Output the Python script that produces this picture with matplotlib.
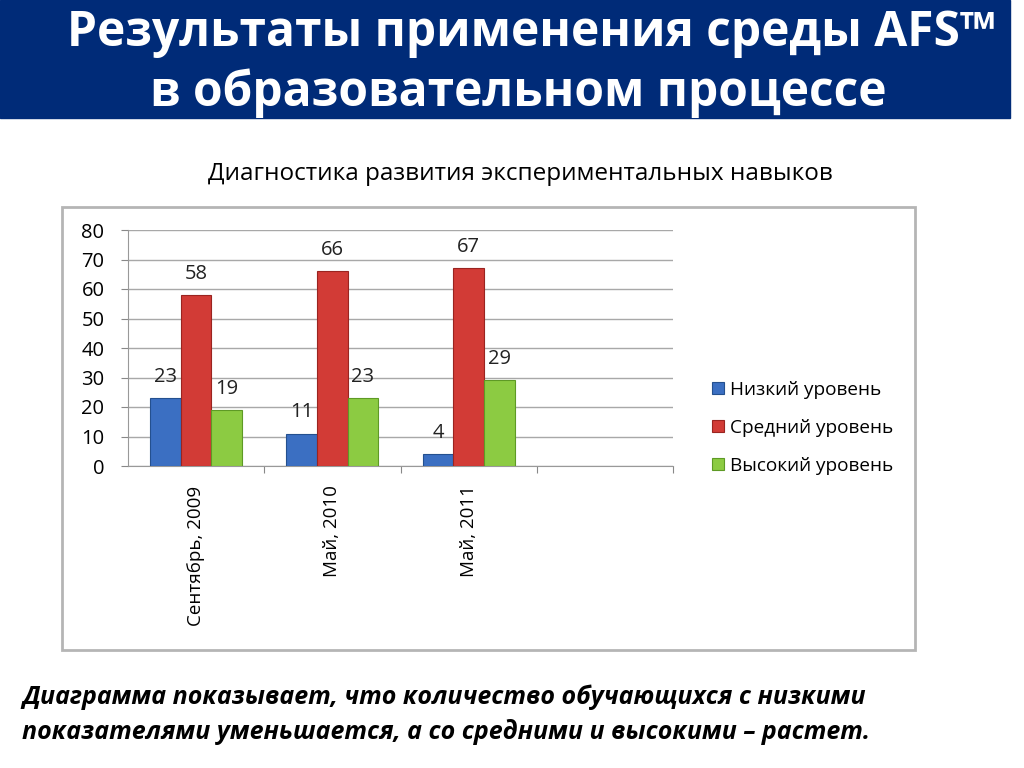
import matplotlib
matplotlib.use("Agg")
import matplotlib.pyplot as plt
from matplotlib.patches import Rectangle
import numpy as np

plt.rcParams['font.family'] = ['Open Sans', 'DejaVu Sans']

categories = ["Сентябрь, 2009", "Май, 2010", "Май, 2011"]
series_names = ["Низкий уровень", "Средний уровень", "Высокий уровень"]
low = [23, 11, 4]
mid = [58, 66, 67]
high = [19, 23, 29]
colors = ["#3b6fc2", "#d23b36", "#8ccb42"]
edges = ["#24508f", "#9a2420", "#5e9a25"]

fig = plt.figure(figsize=[10.24, 7.68], dpi=100)

# header banner
fig.patches.append(Rectangle((0, 1 - 118 / 768), 1010 / 1024, 118 / 768,
                             transform=fig.transFigure, color="#002b78", zorder=0))
fig.text(531 / 1024, 1 - 33 / 768, "Результаты применения среды AFS™", color="white",
         fontsize=34.5, fontweight="bold", ha="center", va="center")
fig.text(518 / 1024, 1 - 93 / 768, "в образовательном процессе", color="white",
         fontsize=34.5, fontweight="bold", ha="center", va="center")

fig.text(520 / 1024, 1 - 174 / 768, "Диагностика развития экспериментальных навыков",
         fontsize=17.5, ha="center", va="center")

# chart frame
fig.patches.append(Rectangle((62 / 1024, 1 - 650 / 768), (915 - 62) / 1024, (650 - 207) / 768,
                             transform=fig.transFigure, fill=False, edgecolor="#b5b5b5",
                             linewidth=2, zorder=0))

ax = fig.add_axes([128 / 1024, 1 - 466 / 768, (673 - 128) / 1024, (466 - 230) / 768])
x = np.arange(len(categories))
w = 0.225
for i, (vals, name) in enumerate(zip([low, mid, high], series_names)):
    pos = x + (i - 1) * w
    ax.bar(pos, vals, w, color=colors[i], edgecolor=edges[i], linewidth=0.8,
           label=name, zorder=3)
    for p, v in zip(pos, vals):
        ax.annotate(str(v), (p, v), xytext=(0, 8), textcoords="offset points",
                    ha="center", va="bottom", fontsize=14.5, color="#222222")

ax.set_xlim(-0.5, 3.5)
ax.set_ylim(0, 80)
ax.set_yticks(range(0, 81, 10))
ax.tick_params(axis="y", labelsize=14.5, length=5, color="#888888", pad=12)
ax.set_xticks([0.5, 1.5, 2.5, 3.5], minor=False)
ax.set_xticklabels([])
ax.tick_params(axis="x", length=5, color="#888888")
ax.set_xticks(x, minor=True)
ax.set_xticklabels(categories, minor=True, rotation=90, fontsize=13.5, va="top")
ax.tick_params(axis="x", which="minor", length=0, pad=14)
ax.grid(axis="y", color="#a8a8a8", linewidth=1, zorder=0)
for s in ["top", "right"]:
    ax.spines[s].set_visible(False)
ax.spines["left"].set_color("#999999")
ax.spines["bottom"].set_color("#999999")

ax.legend(loc="center left", bbox_to_anchor=(695 / 1024, 1 - 428 / 768),
          bbox_transform=fig.transFigure, frameon=False, fontsize=13.7,
          handlelength=0.6, handleheight=0.6, handletextpad=0.35, labelspacing=1.05)

fig.text(22 / 1024, 1 - 697 / 768,
         "Диаграмма показывает, что количество обучающихся с низкими",
         fontsize=18, fontweight="bold", style="italic", va="center")
fig.text(22 / 1024, 1 - 732 / 768,
         "показателями уменьшается, а со средними и высокими – растет.",
         fontsize=18, fontweight="bold", style="italic", va="center")

fig.savefig("out.png", dpi=100)
